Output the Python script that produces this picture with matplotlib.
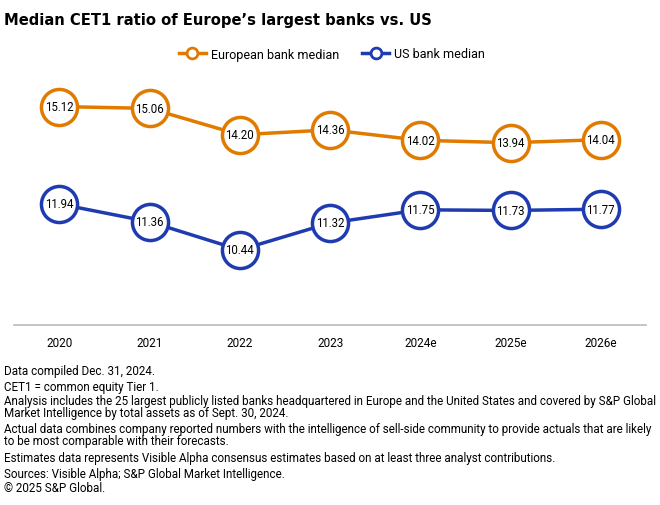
import matplotlib.pyplot as plt

years = ["2020", "2021", "2022", "2023", "2024e", "2025e", "2026e"]
europe = [15.12, 15.06, 14.20, 14.36, 14.02, 13.94, 14.04]
us = [11.94, 11.36, 10.44, 11.32, 11.75, 11.73, 11.77]

notes = [
    "Data compiled Dec. 31, 2024.",
    "CET1 = common equity Tier 1.",
    "Analysis includes the 25 largest publicly listed banks headquartered in Europe and the United States and covered by S&P Global",
    "Market Intelligence by total assets as of Sept. 30, 2024.",
    "Actual data combines company reported numbers with the intelligence of sell-side community to provide actuals that are likely",
    "to be most comparable with their forecasts.",
    "Estimates data represents Visible Alpha consensus estimates based on at least three analyst contributions.",
    "Sources: Visible Alpha; S&P Global Market Intelligence.",
    "\u00a9 2025 S&P Global.",
]
# pixel rows of the footnote lines (from the top)
note_rows = [372, 388, 402, 413.5, 429.5, 442, 459, 475, 489]

plt.rcParams['font.family'] = ['Roboto', 'DejaVu Sans']

orange = "#E07B00"
blue = "#1F3BB0"

fig = plt.figure(figsize=(6.6, 5.06), dpi=100)
ax = fig.add_axes([0.0217, 0.3563, 0.957, 0.4844])

x = list(range(len(years)))
for vals, col, name in [(europe, orange, "European bank median"), (us, blue, "US bank median")]:
    ax.plot(x, vals, color=col, lw=2.5, marker="o", ms=26, mfc="white",
            mec=col, mew=2.5, label=name, zorder=3)
    for xi, v in zip(x, vals):
        ax.text(xi, v, f"{v:.2f}", ha="center", va="center", fontsize=8.3,
                color="black", zorder=4)

ax.set_xlim(-0.5, 6.5)
ax.set_ylim(8, 16)
ax.set_xticks(x)
ax.set_xticklabels(years, fontsize=8.5)
ax.tick_params(axis="x", length=0, pad=8)
ax.set_yticks([])
for s in ["top", "right", "left"]:
    ax.spines[s].set_visible(False)
ax.spines["bottom"].set_color("#bbbbbb")
ax.spines["bottom"].set_linewidth(1.2)

fig.text(0.006, 1 - 21 / 506, "Median CET1 ratio of Europe\u2019s largest banks vs. US",
         fontsize=10.6, fontweight="bold", va="center", family=["DejaVu Sans"])

leg = fig.legend(loc="center", bbox_to_anchor=(0.503, 1 - 55 / 506), ncol=2, frameon=False,
                 fontsize=9, markerscale=0.3, handlelength=2.2, columnspacing=1.8,
                 handletextpad=0.4)
for h in leg.legend_handles:
    h.set_markeredgewidth(2)
    h.set_linewidth(2.5)

for n, r in zip(notes, note_rows):
    fig.text(0.006, 1 - r / 506, n, fontsize=8.35, va="center")

fig.savefig("out.png", dpi=100)
